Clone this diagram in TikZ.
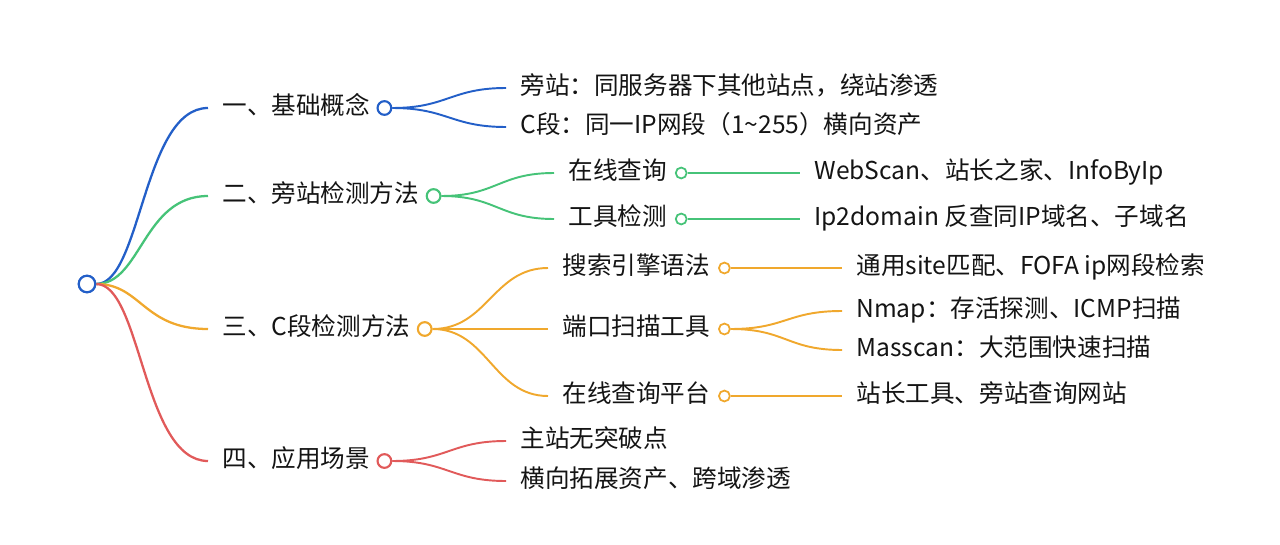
\documentclass[tikz,border=0pt]{standalone}
\usepackage{fontspec}
\setmainfont{Noto Sans CJK SC}
\usepackage{xcolor}
\usepackage{tikz}
\usetikzlibrary{positioning}
\definecolor{mmblue}{RGB}{35,95,200}
\definecolor{mmgreen}{RGB}{70,195,120}
\definecolor{mmorange}{RGB}{240,168,45}
\definecolor{mmred}{RGB}{225,90,90}
\tikzset{
  mmtext/.style={anchor=west, inner xsep=8pt, inner ysep=0pt, text height=0.88em, text depth=0.12em,
    font=\fontsize{14}{16}\selectfont, text=black!92},
  mmdot/.style={circle, draw=#1, fill=white, line width=1.2pt, inner sep=0pt, minimum size=7.8pt},
  mmsmall/.style={circle, draw=#1, fill=white, line width=1pt, inner sep=0pt, minimum size=6.2pt},
  mmline/.style={draw=#1, line width=1.3pt},
  mmthin/.style={draw=#1, line width=1.1pt}
}
\begin{document}
\begin{tikzpicture}[x=0.02cm,y=-0.02cm]
            \useasboundingbox (0,0) rectangle (1280,544);
            % root
            \node[circle, draw=mmblue, fill=white, line width=1.2pt, inner sep=0pt, minimum size=9.4pt] (root) at (87,284) {};
            % first level
            \node[mmtext] (a) at (208,108) {一、基础概念};
            \node[mmtext] (b) at (208,196) {二、旁站检测方法};
            \node[mmtext] (c) at (208,329) {三、C段检测方法};
            \node[mmtext] (d) at (208,461) {四、应用场景};
            \draw[mmline=mmblue] (root.east) .. controls +(45,0) and +(-65,0) .. (a.west);
            \draw[mmline=mmgreen] (root.east) .. controls +(45,0) and +(-65,0) .. (b.west);
            \draw[mmline=mmorange] (root.east) .. controls +(45,0) and +(-65,0) .. (c.west);
            \draw[mmline=mmred] (root.east) .. controls +(45,0) and +(-65,0) .. (d.west);
            \node[circle, draw=mmblue, fill=white, line width=1.2pt, inner sep=0pt, minimum size=9.4pt] at (root) {};
            \node[mmdot=mmblue] (adot) at (a.east) {};
            \node[mmdot=mmgreen] (bdot) at (b.east) {};
            \node[mmdot=mmorange] (cdot) at (c.east) {};
            \node[mmdot=mmred] (ddot) at (d.east) {};
            % 一
            \node[mmtext] (a1) at (506,88) {旁站：同服务器下其他站点，绕站渗透};
            \node[mmtext] (a2) at (506,127) {C段：同一IP网段（1\textasciitilde 255）横向资产};
            \draw[mmthin=mmblue] (adot.east) .. controls +(55,0) and +(-55,0) .. (a1.west);
            \draw[mmthin=mmblue] (adot.east) .. controls +(55,0) and +(-55,0) .. (a2.west);
            % 二
            \node[mmtext] (b1) at (554,173) {在线查询};
            \node[mmtext] (b2) at (554,219) {工具检测};
            \draw[mmthin=mmgreen] (bdot.east) .. controls +(55,0) and +(-55,0) .. (b1.west);
            \draw[mmthin=mmgreen] (bdot.east) .. controls +(55,0) and +(-55,0) .. (b2.west);
            \node[mmsmall=mmgreen] (b1dot) at (b1.east) {};
            \node[mmsmall=mmgreen] (b2dot) at (b2.east) {};
            \node[mmtext] (b1x) at (800,173) {WebScan、站长之家、InfoByIp};
            \node[mmtext] (b2x) at (800,219) {Ip2domain 反查同IP域名、子域名};
            \draw[mmthin=mmgreen] (b1dot.east) -- (b1x.west);
            \draw[mmthin=mmgreen] (b2dot.east) -- (b2x.west);
            % 三
            \node[mmtext] (c1) at (548,268) {搜索引擎语法};
            \node[mmtext] (c2) at (548,329) {端口扫描工具};
            \node[mmtext] (c3) at (548,396) {在线查询平台};
            \draw[mmthin=mmorange] (cdot.east) .. controls +(55,0) and +(-55,0) .. (c1.west);
            \draw[mmthin=mmorange] (cdot.east) -- (c2.west);
            \draw[mmthin=mmorange] (cdot.east) .. controls +(55,0) and +(-55,0) .. (c3.west);
            \node[mmsmall=mmorange] (c1dot) at (c1.east) {};
            \node[mmsmall=mmorange] (c2dot) at (c2.east) {};
            \node[mmsmall=mmorange] (c3dot) at (c3.east) {};
            \node[mmtext] (c1x) at (842,268) {通用site匹配、FOFA ip网段检索};
            \node[mmtext] (c2x) at (842,311) {Nmap：存活探测、ICMP扫描};
            \node[mmtext] (c2y) at (842,350) {Masscan：大范围快速扫描};
            \node[mmtext] (c3x) at (842,396) {站长工具、旁站查询网站};
            \draw[mmthin=mmorange] (c1dot.east) -- (c1x.west);
            \draw[mmthin=mmorange] (c2dot.east) .. controls +(55,0) and +(-55,0) .. (c2x.west);
            \draw[mmthin=mmorange] (c2dot.east) .. controls +(55,0) and +(-55,0) .. (c2y.west);
            \draw[mmthin=mmorange] (c3dot.east) -- (c3x.west);
            % 四
            \node[mmtext] (d1) at (506,441) {主站无突破点};
            \node[mmtext] (d2) at (506,481) {横向拓展资产、跨域渗透};
            \draw[mmthin=mmred] (ddot.east) .. controls +(55,0) and +(-55,0) .. (d1.west);
            \draw[mmthin=mmred] (ddot.east) .. controls +(55,0) and +(-55,0) .. (d2.west);
        \end{tikzpicture}
\end{document}
